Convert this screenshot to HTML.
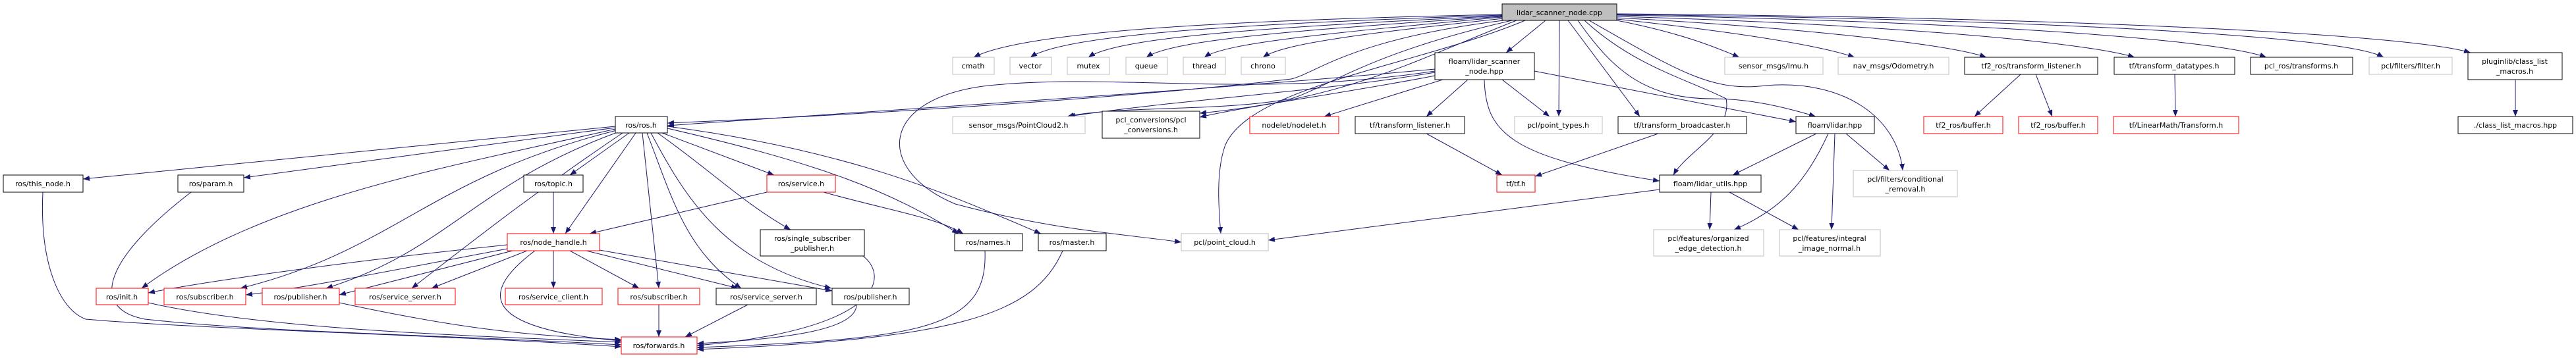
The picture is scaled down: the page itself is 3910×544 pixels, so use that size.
<!DOCTYPE html>
<html><head><meta charset="utf-8"><style>
html,body{margin:0;padding:0;background:#fff;}
svg{display:block}
text{font-family:"DejaVu Sans","Liberation Sans",sans-serif;font-size:11px;fill:#000;text-anchor:middle}
.e{fill:none;stroke:#191970;stroke-width:1;marker-end:url(#a)}
.n rect{fill:#fff;stroke:#000;stroke-width:1}
.r rect{stroke:#ff0000}
.g rect{stroke:#bfbfbf}
</style></head><body>
<svg width="3910" height="544" viewBox="0 0 3910 544" xmlns="http://www.w3.org/2000/svg">
<defs><marker id="a" markerUnits="userSpaceOnUse" markerWidth="11" markerHeight="9" refX="10" refY="4" orient="auto"><path d="M0,0 L10,4 L0,8 z" fill="#191970"/></marker></defs>

<!-- edges from root -->
<path class="e" d="M2280,22 C1900,30 1560,45 1478,87"/>
<path class="e" d="M2280,23 C1920,35 1620,50 1564,87"/>
<path class="e" d="M2280,24 C1950,40 1700,55 1652,87"/>
<path class="e" d="M2280,25 C1980,45 1780,60 1740,87"/>
<path class="e" d="M2280,26 C2020,50 1860,65 1828,87"/>
<path class="e" d="M2282,28 C2080,50 1950,65 1917,87"/>
<path class="e" d="M2282,31 C2050,60 2000,110 1960,120 C1700,150 1300,175 1013,187"/>
<path class="e" d="M2346,31 L2286,80"/>
<path class="e" d="M2295,31 C2080,80 2020,130 1960,150 C1850,170 1700,160 1620,177"/>
<path class="e" d="M2302,31 C2150,90 2050,150 1821,172"/>
<path class="e" d="M2315,31 C2150,100 1900,130 1860,220 C1845,260 1850,320 1853,355"/>
<path class="e" d="M2367,31 L2366,177"/>
<path class="e" d="M2380,31 L2489,177"/>
<path class="e" d="M2395,31 C2450,110 2500,150 2600,150 C2650,150 2700,160 2756,177"/>
<path class="e" d="M2405,31 C2480,100 2560,120 2620,150 C2630,200 2560,230 2540,266"/>
<path class="e" d="M2412,31 C2550,110 2600,140 2680,130 C2800,120 2880,180 2888,259"/>
<path class="e" d="M2454,31 C2550,50 2600,70 2640,87"/>
<path class="e" d="M2454,29 C2600,45 2750,65 2815,87"/>
<path class="e" d="M2454,27 C2700,40 2950,65 3015,87"/>
<path class="e" d="M2454,25 C2800,35 3150,60 3240,87"/>
<path class="e" d="M2454,23 C2900,30 3350,55 3440,87"/>
<path class="e" d="M2454,22 C3000,28 3550,50 3618,87"/>
<path class="e" d="M2454,21 C3100,26 3650,50 3750,80"/>

<!-- from floam/lidar_scanner_node.hpp -->
<path class="e" d="M2178,105 C1800,140 1300,170 1013,191"/>
<path class="e" d="M2178,110 C2000,140 1800,150 1622,177"/>
<path class="e" d="M2178,115 C2050,140 1900,160 1821,178"/>
<path class="e" d="M2190,121 L2010,177"/>
<path class="e" d="M2228,121 L2165,177"/>
<path class="e" d="M2280,121 L2352,177"/>
<path class="e" d="M2329,108 L2726,185"/>
<path class="e" d="M2253,121 C2255,200 2290,240 2519,275"/>
<path class="e" d="M2178,108 C1900,150 1700,110 1500,130 C1330,150 1330,260 1450,310 C1600,350 1700,355 1793,368"/>

<!-- from ros/ros.h -->
<path class="e" d="M934,192 L126,272"/>
<path class="e" d="M934,194 L370,270"/>
<path class="e" d="M934,196 C700,250 400,300 215,438"/>
<path class="e" d="M936,198 C650,270 600,380 365,438"/>
<path class="e" d="M940,200 C720,280 680,380 495,438"/>
<path class="e" d="M945,202 C800,300 700,380 625,438"/>
<path class="e" d="M955,202 L865,266"/>
<path class="e" d="M965,202 L858,355"/>
<path class="e" d="M975,202 L1000,438"/>
<path class="e" d="M982,202 C1020,300 1040,380 1125,438"/>
<path class="e" d="M988,202 C1040,300 1100,400 1262,438"/>
<path class="e" d="M1005,202 L1175,266"/>
<path class="e" d="M998,202 C1080,260 1130,310 1200,349"/>
<path class="e" d="M1013,195 C1250,250 1350,290 1455,355"/>
<path class="e" d="M1013,192 C1300,230 1450,300 1580,355"/>

<!-- from ros/service.h, topic -->
<path class="e" d="M1164,292 L895,355"/>
<path class="e" d="M1250,292 C1350,320 1420,330 1462,355"/>
<path class="e" d="M840,292 L840,355"/>

<!-- from node_handle -->
<path class="e" d="M770,372 C500,400 300,430 225,445"/>
<path class="e" d="M770,378 C600,410 450,440 373,448"/>
<path class="e" d="M778,381 L515,448"/>
<path class="e" d="M800,381 L655,438"/>
<path class="e" d="M812,381 C720,450 740,500 943,518"/>
<path class="e" d="M840,381 L840,438"/>
<path class="e" d="M865,381 L970,438"/>
<path class="e" d="M890,381 L1120,438"/>
<path class="e" d="M910,380 L1263,442"/>

<!-- to forwards -->
<path class="e" d="M65,292 C60,400 90,470 130,485 C300,500 700,510 943,527"/>
<path class="e" d="M290,292 C150,400 140,470 220,485 C400,505 700,510 943,524"/>
<path class="e" d="M225,460 C400,500 700,510 943,520"/>
<path class="e" d="M515,460 C700,500 800,510 943,516"/>
<path class="e" d="M1000,463 L1000,512"/>
<path class="e" d="M1135,463 L1040,512"/>
<path class="e" d="M1300,463 C1300,500 1200,515 1058,522"/>
<path class="e" d="M1310,389 C1350,420 1340,500 1058,525"/>
<path class="e" d="M1495,381 C1500,500 1400,515 1058,528"/>
<path class="e" d="M1613,381 C1570,480 1450,515 1058,531"/>

<!-- tf -->
<path class="e" d="M2165,203 L2280,266"/>
<path class="e" d="M2517,203 L2330,268"/>
<!-- lidar_utils -->
<path class="e" d="M2519,288 L1925,365"/>
<path class="e" d="M2597,292 L2595,349"/>
<path class="e" d="M2625,292 L2730,349"/>
<!-- lidar.hpp -->
<path class="e" d="M2757,203 L2630,266"/>
<path class="e" d="M2775,203 C2740,280 2700,320 2632,349"/>
<path class="e" d="M2785,203 L2780,349"/>
<path class="e" d="M2802,203 L2868,259"/>
<!-- tf2 etc -->
<path class="e" d="M3067,113 L2997,177"/>
<path class="e" d="M3090,113 L3115,177"/>
<path class="e" d="M3301,113 L3302,177"/>
<path class="e" d="M3818,121 L3818,177"/>

<!-- nodes -->
<g class="n"><rect x="2280" y="6" width="174" height="25" style="fill:#bfbfbf"/><text x="2367" y="23">lidar_scanner_node.cpp</text></g>
<g class="n g"><rect x="1446" y="87" width="63" height="26"/><text x="1477" y="104">cmath</text></g>
<g class="n g"><rect x="1533" y="87" width="63" height="26"/><text x="1564" y="104">vector</text></g>
<g class="n g"><rect x="1620" y="87" width="64" height="26"/><text x="1652" y="104">mutex</text></g>
<g class="n g"><rect x="1709" y="87" width="63" height="26"/><text x="1740" y="104">queue</text></g>
<g class="n g"><rect x="1796" y="87" width="64" height="26"/><text x="1828" y="104">thread</text></g>
<g class="n g"><rect x="1884" y="87" width="67" height="26"/><text x="1917" y="104">chrono</text></g>
<g class="n"><rect x="2178" y="80" width="151" height="41"/><text x="2253" y="97">floam/lidar_scanner</text><text x="2253" y="112">_node.hpp</text></g>
<g class="n g"><rect x="2618" y="87" width="149" height="26"/><text x="2692" y="104">sensor_msgs/Imu.h</text></g>
<g class="n g"><rect x="2790" y="87" width="168" height="26"/><text x="2874" y="104">nav_msgs/Odometry.h</text></g>
<g class="n"><rect x="2982" y="87" width="202" height="26"/><text x="3083" y="104">tf2_ros/transform_listener.h</text></g>
<g class="n"><rect x="3209" y="87" width="183" height="26"/><text x="3300" y="104">tf/transform_datatypes.h</text></g>
<g class="n"><rect x="3416" y="87" width="155" height="26"/><text x="3493" y="104">pcl_ros/transforms.h</text></g>
<g class="n g"><rect x="3596" y="87" width="126" height="26"/><text x="3659" y="104">pcl/filters/filter.h</text></g>
<g class="n"><rect x="3746" y="80" width="143" height="41"/><text x="3817" y="97">pluginlib/class_list</text><text x="3817" y="112">_macros.h</text></g>

<g class="n"><rect x="934" y="177" width="79" height="25"/><text x="973" y="194">ros/ros.h</text></g>
<g class="n g"><rect x="1446" y="177" width="201" height="26"/><text x="1546" y="194">sensor_msgs/PointCloud2.h</text></g>
<g class="n"><rect x="1673" y="169" width="148" height="41"/><text x="1747" y="186">pcl_conversions/pcl</text><text x="1747" y="201">_conversions.h</text></g>
<g class="n r"><rect x="1897" y="177" width="135" height="26"/><text x="1964" y="194">nodelet/nodelet.h</text></g>
<g class="n"><rect x="2057" y="177" width="166" height="26"/><text x="2140" y="194">tf/transform_listener.h</text></g>
<g class="n g"><rect x="2299" y="177" width="133" height="26"/><text x="2365" y="194">pcl/point_types.h</text></g>
<g class="n"><rect x="2456" y="177" width="195" height="26"/><text x="2553" y="194">tf/transform_broadcaster.h</text></g>
<g class="n"><rect x="2726" y="177" width="119" height="26"/><text x="2785" y="194">floam/lidar.hpp</text></g>
<g class="n r"><rect x="2920" y="177" width="120" height="26"/><text x="2980" y="194">tf2_ros/buffer.h</text></g>
<g class="n r"><rect x="3064" y="177" width="120" height="26"/><text x="3124" y="194">tf2_ros/buffer.h</text></g>
<g class="n r"><rect x="3208" y="177" width="190" height="26"/><text x="3303" y="194">tf/LinearMath/Transform.h</text></g>
<g class="n"><rect x="3731" y="177" width="174" height="26"/><text x="3818" y="194">./class_list_macros.hpp</text></g>

<g class="n"><rect x="5" y="266" width="121" height="26"/><text x="65" y="283">ros/this_node.h</text></g>
<g class="n"><rect x="270" y="266" width="100" height="26"/><text x="320" y="283">ros/param.h</text></g>
<g class="n"><rect x="795" y="266" width="90" height="26"/><text x="840" y="283">ros/topic.h</text></g>
<g class="n r"><rect x="1164" y="266" width="104" height="26"/><text x="1216" y="283">ros/service.h</text></g>
<g class="n r"><rect x="2272" y="266" width="58" height="26"/><text x="2301" y="283">tf/tf.h</text></g>
<g class="n"><rect x="2519" y="266" width="154" height="26"/><text x="2596" y="283">floam/lidar_utils.hpp</text></g>
<g class="n g"><rect x="2813" y="259" width="158" height="40"/><text x="2892" y="276">pcl/filters/conditional</text><text x="2892" y="291">_removal.h</text></g>

<g class="n r"><rect x="770" y="355" width="140" height="26"/><text x="840" y="372">ros/node_handle.h</text></g>
<g class="n"><rect x="1154" y="349" width="158" height="40"/><text x="1233" y="366">ros/single_subscriber</text><text x="1233" y="381">_publisher.h</text></g>
<g class="n"><rect x="1449" y="355" width="103" height="26"/><text x="1500" y="372">ros/names.h</text></g>
<g class="n"><rect x="1576" y="355" width="103" height="26"/><text x="1627" y="372">ros/master.h</text></g>
<g class="n g"><rect x="1793" y="355" width="132" height="26"/><text x="1859" y="372">pcl/point_cloud.h</text></g>
<g class="n g"><rect x="2510" y="349" width="167" height="40"/><text x="2593" y="366">pcl/features/organized</text><text x="2593" y="381">_edge_detection.h</text></g>
<g class="n g"><rect x="2701" y="349" width="153" height="40"/><text x="2777" y="366">pcl/features/integral</text><text x="2777" y="381">_image_normal.h</text></g>

<g class="n r"><rect x="146" y="438" width="79" height="25"/><text x="185" y="455">ros/init.h</text></g>
<g class="n r"><rect x="249" y="438" width="124" height="25"/><text x="311" y="455">ros/subscriber.h</text></g>
<g class="n r"><rect x="398" y="438" width="117" height="25"/><text x="456" y="455">ros/publisher.h</text></g>
<g class="n r"><rect x="539" y="438" width="152" height="25"/><text x="615" y="455">ros/service_server.h</text></g>
<g class="n r"><rect x="767" y="438" width="147" height="25"/><text x="840" y="455">ros/service_client.h</text></g>
<g class="n r"><rect x="938" y="438" width="124" height="25"/><text x="1000" y="455">ros/subscriber.h</text></g>
<g class="n"><rect x="1087" y="438" width="152" height="25"/><text x="1163" y="455">ros/service_server.h</text></g>
<g class="n"><rect x="1263" y="438" width="117" height="25"/><text x="1321" y="455">ros/publisher.h</text></g>
<g class="n r"><rect x="943" y="512" width="115" height="26"/><text x="1000" y="529">ros/forwards.h</text></g>
</svg>
</body></html>
